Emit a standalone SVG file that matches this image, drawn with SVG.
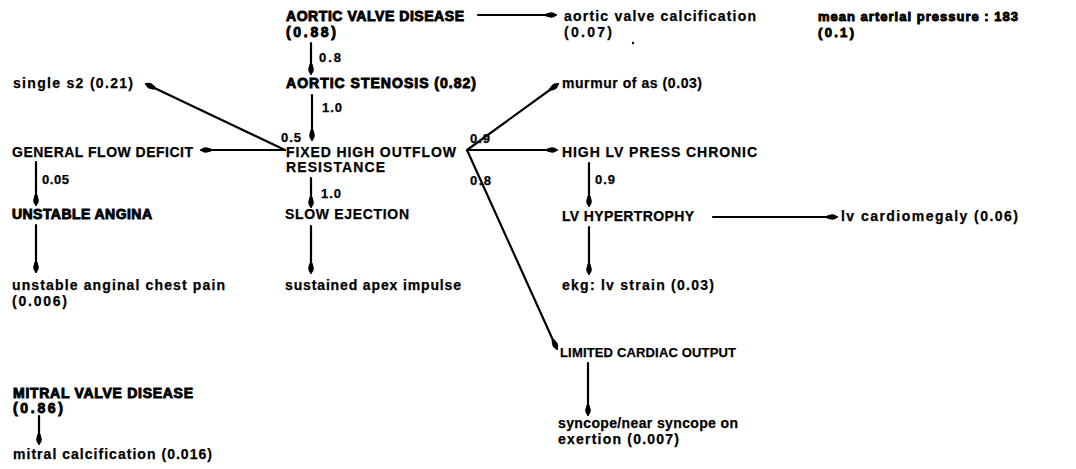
<svg xmlns="http://www.w3.org/2000/svg" width="1076" height="469" viewBox="0 0 1076 469">
  <style>
    text { font-family: "Liberation Sans", Arial, sans-serif; font-size: 14px; font-weight: bold; fill: #000; stroke: #000; stroke-width: 0.25px; }
    .heavy { stroke-width: 0.9px; }
    .sm { font-size: 13px; }
    .lbl { font-size: 13px; }
    .edge { fill: none; stroke: #000; stroke-width: 2.2; stroke-linecap: round; marker-end: url(#head); }
  </style>
  <defs>
    <marker id="head" markerUnits="userSpaceOnUse" markerWidth="14" markerHeight="8" viewBox="-12 -4 14 8" refX="0" refY="0" orient="auto">
      <path d="M0,0 Q-1,-2.8 -5,-2.8 L-10,-1.5 L-10,1.5 L-5,2.8 Q-1,2.8 0,0 Z" fill="#000"/>
    </marker>
  </defs>
  <rect width="1076" height="469" fill="#fff"/>

  <g id="connectors">
    <path class="edge" d="M478,15 L556,15"/>
    <path class="edge" d="M311,43 L311,74"/>
    <path class="edge" d="M312,95 L312,140"/>
    <path class="edge" d="M285,150 L146,84"/>
    <path class="edge" d="M285,150 L201,150"/>
    <path class="edge" d="M311,178 L311,207"/>
    <path class="edge" d="M311,226 L311,273"/>
    <path class="edge" d="M467,150 L558,84"/>
    <path class="edge" d="M467,150 L557,150"/>
    <path class="edge" d="M467,150 L557,349"/>
    <path class="edge" d="M589,163 L589,206"/>
    <path class="edge" d="M713,217 L837,217"/>
    <path class="edge" d="M589,227 L589,274"/>
    <path class="edge" d="M588,363 L588,415"/>
    <path class="edge" d="M36,162 L36,205"/>
    <path class="edge" d="M36,225 L36,272"/>
    <path class="edge" d="M39,416 L39,444"/>
    <text class="lbl" x="319" y="62" textLength="22" lengthAdjust="spacing">0.8</text>
    <text class="lbl" x="322" y="112" textLength="20" lengthAdjust="spacing">1.0</text>
    <text class="lbl" x="281" y="142" textLength="20" lengthAdjust="spacing">0.5</text>
    <text class="lbl" x="470" y="143" textLength="20" lengthAdjust="spacing">0.9</text>
    <text class="lbl" x="42" y="184" textLength="27" lengthAdjust="spacing">0.05</text>
    <text class="lbl" x="321" y="198" textLength="20" lengthAdjust="spacing">1.0</text>
    <text class="lbl" x="470" y="185" textLength="21" lengthAdjust="spacing">0.8</text>
    <text class="lbl" x="595" y="184" textLength="20" lengthAdjust="spacing">0.9</text>
  </g>

  <g id="aortic-valve-disease">
    <text class="heavy" x="286" y="21" textLength="178" lengthAdjust="spacing">AORTIC VALVE DISEASE</text>
    <text class="heavy" x="286" y="37" textLength="50" lengthAdjust="spacing">(0.88)</text>
  </g>
  <g id="aortic-valve-calcification">
    <text x="564" y="21" textLength="192" lengthAdjust="spacing">aortic valve calcification</text>
    <text x="564" y="37" textLength="48" lengthAdjust="spacing">(0.07)</text>
  </g>
  <g id="mean-arterial-pressure">
    <text class="heavy sm" x="818" y="21" textLength="200" lengthAdjust="spacing">mean arterial pressure : 183</text>
    <text class="heavy sm" x="818" y="37" textLength="36" lengthAdjust="spacing">(0.1)</text>
  </g>
  <circle cx="633" cy="43" r="1.2" fill="#000"/>

  <g id="single-s2">
    <text x="13" y="88" textLength="120" lengthAdjust="spacing">single s2 (0.21)</text>
  </g>
  <g id="aortic-stenosis">
    <text class="heavy" x="286" y="88" textLength="190" lengthAdjust="spacing">AORTIC STENOSIS (0.82)</text>
  </g>
  <g id="murmur-of-as">
    <text x="562" y="88" textLength="140" lengthAdjust="spacing">murmur of as (0.03)</text>
  </g>

  <g id="general-flow-deficit">
    <text x="12" y="157" textLength="181" lengthAdjust="spacing">GENERAL FLOW DEFICIT</text>
  </g>
  <g id="fixed-high-outflow-resistance">
    <text x="286" y="157" textLength="170" lengthAdjust="spacing">FIXED HIGH OUTFLOW</text>
    <text x="286" y="172" textLength="99" lengthAdjust="spacing">RESISTANCE</text>
  </g>
  <g id="high-lv-press-chronic">
    <text x="562" y="157" textLength="195" lengthAdjust="spacing">HIGH LV PRESS CHRONIC</text>
  </g>

  <g id="unstable-angina">
    <text class="heavy" x="12" y="219" textLength="140" lengthAdjust="spacing">UNSTABLE ANGINA</text>
  </g>
  <g id="slow-ejection">
    <text x="285" y="219" textLength="124" lengthAdjust="spacing">SLOW EJECTION</text>
  </g>
  <g id="lv-hypertrophy">
    <text x="562" y="221" textLength="132" lengthAdjust="spacing">LV HYPERTROPHY</text>
  </g>
  <g id="lv-cardiomegaly">
    <text x="841" y="221" textLength="177" lengthAdjust="spacing">lv cardiomegaly (0.06)</text>
  </g>

  <g id="unstable-anginal-chest-pain">
    <text x="12" y="290" textLength="213" lengthAdjust="spacing">unstable anginal chest pain</text>
    <text x="12" y="306" textLength="55" lengthAdjust="spacing">(0.006)</text>
  </g>
  <g id="sustained-apex-impulse">
    <text x="285" y="290" textLength="176" lengthAdjust="spacing">sustained apex impulse</text>
  </g>
  <g id="ekg-lv-strain">
    <text x="562" y="290" textLength="152" lengthAdjust="spacing">ekg: lv strain (0.03)</text>
  </g>

  <g id="limited-cardiac-output">
    <text class="sm" x="560" y="357" textLength="176" lengthAdjust="spacing">LIMITED CARDIAC OUTPUT</text>
  </g>
  <g id="syncope">
    <text x="558" y="428" textLength="180" lengthAdjust="spacing">syncope/near syncope on</text>
    <text x="558" y="444" textLength="121" lengthAdjust="spacing">exertion (0.007)</text>
  </g>

  <g id="mitral-valve-disease">
    <text class="heavy" x="13" y="398" textLength="180" lengthAdjust="spacing">MITRAL VALVE DISEASE</text>
    <text class="heavy" x="13" y="413" textLength="50" lengthAdjust="spacing">(0.86)</text>
  </g>
  <g id="mitral-calcification">
    <text x="13" y="459" textLength="199" lengthAdjust="spacing">mitral calcification (0.016)</text>
  </g>
</svg>
